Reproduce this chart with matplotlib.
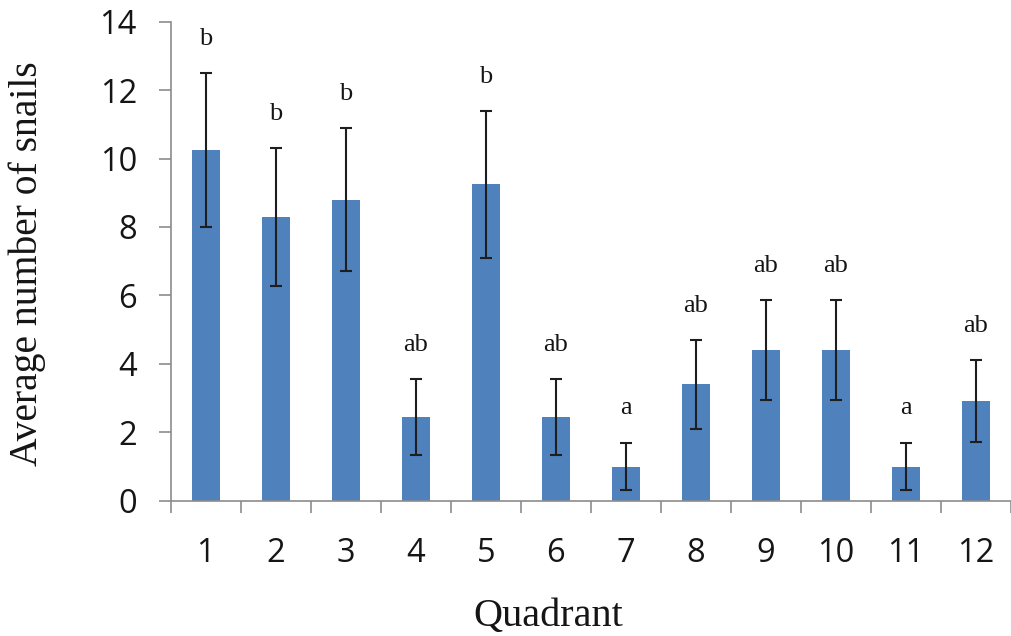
import matplotlib
matplotlib.use('Agg')
import matplotlib.pyplot as plt
import numpy as np

# Dati
quadranti = ['1', '2', '3', '4', '5', '6', '7', '8', '9', '10', '11', '12']
media_lumache = [10.25, 8.3, 8.8, 2.45, 9.25, 2.45, 1.0, 3.4, 4.4, 4.4, 1.0, 2.92]
errore = [2.25, 2.02, 2.08, 1.1, 2.15, 1.1, 0.7, 1.3, 1.47, 1.47, 0.7, 1.2]
lettere = ['b', 'b', 'b', 'ab', 'b', 'ab', 'a', 'ab', 'ab', 'ab', 'a', 'ab']

colore_barre = '#4F81BD'
colore_assi = '#8C8C8C'
colore_testo = '#151515'

fig = plt.figure(figsize=(10.11, 6.36), dpi=100)
ax = fig.add_axes([0.169, 0.2127, 0.831, 0.7532])

x = np.arange(len(quadranti))
ax.bar(x, media_lumache, width=0.4, color=colore_barre, zorder=2)
ax.errorbar(x, media_lumache, yerr=errore, fmt='none', ecolor='#1e1e1e',
            elinewidth=1.5, capsize=4.5, capthick=1.5, zorder=3)

# Lettere di significatività sopra le barre di errore
for xi, m, e, lett in zip(x, media_lumache, errore, lettere):
    ax.text(xi, m + e + 0.82, lett, ha='center', va='baseline',
            fontsize=19, family='Liberation Serif', color=colore_testo)

ax.set_ylim(0, 14)
ax.set_xlim(-0.5, 11.43)
ax.set_yticks(np.arange(0, 15, 2))

# Etichette centrate sulle barre, tacche tra le categorie
ax.set_xticks(x)
ax.set_xticklabels(quadranti)
ax.set_xticks(np.arange(-0.5, 12, 1), minor=True)
ax.tick_params(axis='x', which='major', length=0, pad=26,
               labelsize=23.5, labelcolor=colore_testo)
ax.tick_params(axis='x', which='minor', length=8.5, width=1.2,
               color=colore_assi, direction='out')
ax.tick_params(axis='y', length=8.5, width=1.2, color=colore_assi,
               pad=16, labelsize=23.5, labelcolor=colore_testo)
for lab in ax.get_xticklabels() + ax.get_yticklabels():
    lab.set_family('Open Sans')

for lato in ['top', 'right']:
    ax.spines[lato].set_visible(False)
for lato in ['left', 'bottom']:
    ax.spines[lato].set_color(colore_assi)
    ax.spines[lato].set_linewidth(1.2)

fig.text(0.027, 0.586, 'Average number of snails', rotation=90,
         ha='center', va='center', fontsize=28.5,
         family='Liberation Serif', color=colore_testo)
fig.text(0.542, 0.03, 'Quadrant', ha='center', va='center',
         fontsize=29, family='Liberation Serif', color=colore_testo)

fig.savefig('out.png', dpi=100)
